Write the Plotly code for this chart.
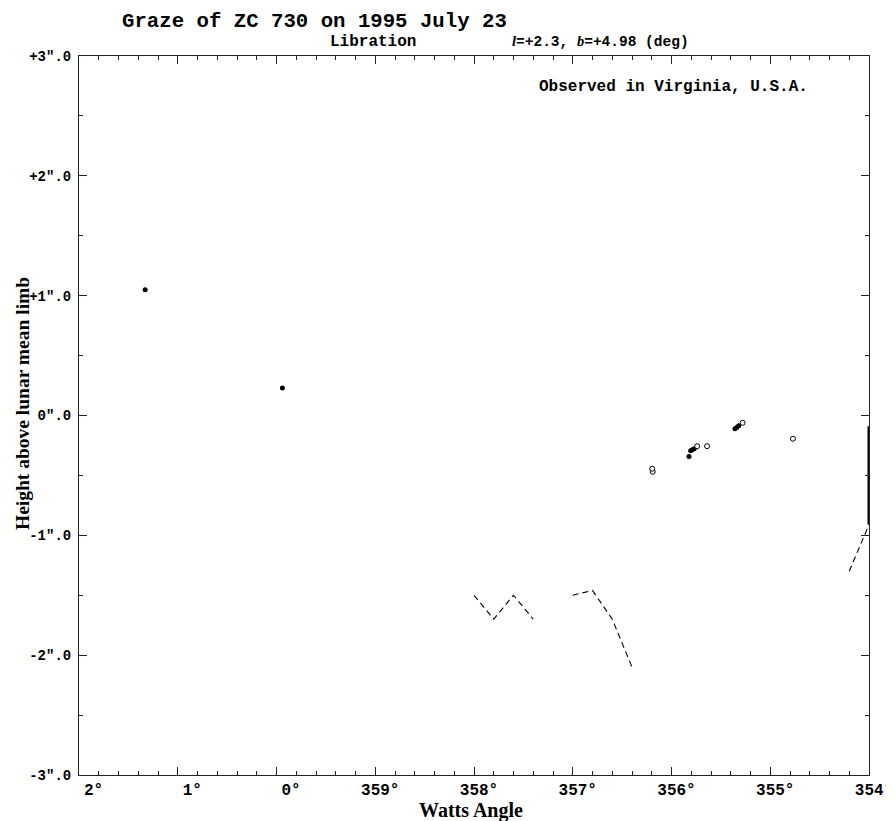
import plotly.graph_objects as go

# ---- data (Watts angle in degrees, height in arcsec) ----
filled_angle = [1.33, 359.94, 355.823, 355.806, 355.79, 355.77, 355.357, 355.34, 355.32]
filled_height = [1.05, 0.23, -0.342, -0.294, -0.286, -0.278, -0.111, -0.100, -0.086]

open_angle = [356.19, 356.195, 355.74, 355.64, 355.28, 354.77]
open_height = [-0.47, -0.444, -0.256, -0.256, -0.061, -0.194]

profile1_angle = [358.0, 357.8, 357.6, 357.4]
profile1_height = [-1.5, -1.70, -1.5, -1.70]
profile2_angle = [357.0, 356.8, 356.6, 356.4]
profile2_height = [-1.5, -1.46, -1.70, -2.10]
profile3_angle = [354.2, 354.0]
profile3_height = [-1.30, -0.91]
edge_angle = [354.0, 354.0]
edge_height = [-0.91, -0.09]

x_tick_angles = [2, 1, 0, 359, 358, 357, 356, 355, 354]
x_tick_labels = ["\u00a0\u00a02°", "\u00a0\u00a01°", "\u00a0\u00a00°", "359°", "358°",
                 "357°", "356°", "355°", "354°"]
y_tick_values = [3, 2, 1, 0, -1, -2, -3]
y_tick_labels = ['+3″.0', '+2″.0', '+1″.0', '0″.0', '-1″.0', '-2″.0', '-3″.0']


def unwrap(a):
    return [v + 360 if v < 180 else v for v in a]


MONO = "Liberation Mono"
SERIF = "Liberation Serif"

fig = go.Figure()
dash = "6px,4px"
for xa, ya in [(profile1_angle, profile1_height), (profile2_angle, profile2_height),
               (profile3_angle, profile3_height)]:
    fig.add_trace(go.Scatter(x=unwrap(xa), y=ya, mode="lines",
                             line=dict(color="black", width=1.1, dash=dash),
                             hoverinfo="skip"))
fig.add_trace(go.Scatter(x=unwrap(edge_angle), y=edge_height, mode="lines",
                         line=dict(color="black", width=3), hoverinfo="skip"))
fig.add_trace(go.Scatter(x=unwrap(filled_angle), y=filled_height, mode="markers",
                         marker=dict(color="black", size=5, symbol="circle")))
fig.add_trace(go.Scatter(x=unwrap(open_angle), y=open_height, mode="markers",
                         marker=dict(color="white", size=5, symbol="circle",
                                     line=dict(color="black", width=1))))

axis_common = dict(showgrid=False, zeroline=False, showline=True, linecolor="#222",
                   linewidth=1, mirror="allticks", ticks="inside", ticklen=8,
                   tickcolor="#222", tickwidth=1, ticklabeloverflow="allow",
                   automargin=False)

# page body has an 8px margin, so the figure is sized/offset to compensate
fig.update_layout(
    width=886, height=813,
    margin=dict(l=71, r=25, t=48, b=46),
    paper_bgcolor="white", plot_bgcolor="white",
    showlegend=False,
    xaxis=dict(range=[362, 354], tickvals=unwrap(x_tick_angles), ticktext=x_tick_labels,
               tickfont=dict(family=MONO, size=16, color="black", weight="bold"),
               minor=dict(ticks="inside", ticklen=4, dtick=0.2, tickcolor="#222"),
               ticklabelshift=-5,
               **axis_common),
    yaxis=dict(range=[-3, 3], tickvals=y_tick_values, ticktext=y_tick_labels,
               tickfont=dict(family=MONO, size=14, color="black", weight="bold"),
               minor=dict(ticks="inside", ticklen=4, dtick=0.5, tickcolor="#222"),
               ticklabelstandoff=4,
               **axis_common),
)

annotations = [
    dict(text="Graze of ZC 730 on 1995 July 23", x=(120 - 79) / 790, y=(775 - 21) / 719,
         xanchor="left", yanchor="middle", font=dict(family=MONO, size=20.7, color="black", weight="bold")),
    dict(text="Libration", x=(328 - 79) / 790, y=(775 - 42) / 719,
         xanchor="left", yanchor="middle", font=dict(family=MONO, size=16, color="black", weight="bold")),
    dict(text="<span style='font-family:Liberation Serif'><i>l</i></span>=+2.3, "
              "<span style='font-family:Liberation Serif'><i>b</i></span>=+4.98 (deg)",
         x=(510 - 79) / 790, y=(775 - 42) / 719,
         xanchor="left", yanchor="middle", font=dict(family=MONO, size=14.5, color="black", weight="bold")),
    dict(text="Observed in Virginia, U.S.A.", x=(537 - 79) / 790, y=(775 - 87) / 719,
         xanchor="left", yanchor="middle", font=dict(family=MONO, size=16, color="black", weight="bold")),
    dict(text="Watts Angle", x=(471 - 79) / 790, y=(775 - 811) / 719,
         xanchor="center", yanchor="middle", font=dict(family=SERIF, size=20, color="black", weight="bold")),
    dict(text="Height above lunar mean limb", x=(22 - 79) / 790, y=(775 - 404) / 719,
         textangle=-90, xanchor="center", yanchor="middle",
         font=dict(family=SERIF, size=19.5, color="black", weight="bold")),
]
for a in annotations:
    a.update(xref="paper", yref="paper", showarrow=False)
fig.update_layout(annotations=annotations)

fig.write_html("out.html")
